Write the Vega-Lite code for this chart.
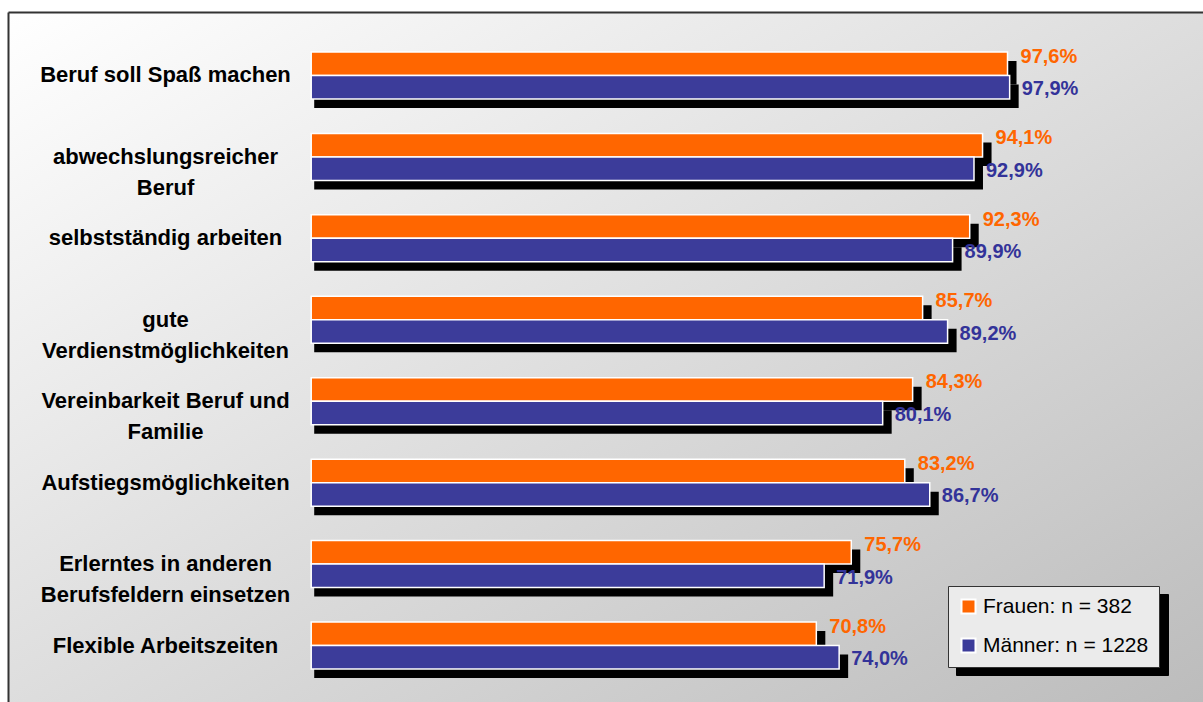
{
  "$schema": "https://vega.github.io/schema/vega-lite/v6.json",
  "width": 1195,
  "height": 690,
  "autosize": {"type": "none"},
  "padding": {"left": 8, "top": 12, "right": 0, "bottom": 0},
  "background": "#ffffff",
  "config": {
    "view": {"stroke": null},
    "locale": {"number": {"decimal": ",", "thousands": ".", "grouping": [3], "currency": ["", " €"]}}
  },
  "resolve": {"scale": {"yOffset": "independent"}},
  "datasets": {
    "shares": [
      {"item": "Beruf soll Spaß machen", "group": "Frauen: n = 382", "share": 0.976},
      {"item": "Beruf soll Spaß machen", "group": "Männer: n = 1228", "share": 0.979},
      {"item": "abwechslungsreicher|Beruf", "group": "Frauen: n = 382", "share": 0.941},
      {"item": "abwechslungsreicher|Beruf", "group": "Männer: n = 1228", "share": 0.929},
      {"item": "selbstständig arbeiten", "group": "Frauen: n = 382", "share": 0.923},
      {"item": "selbstständig arbeiten", "group": "Männer: n = 1228", "share": 0.899},
      {"item": "gute|Verdienstmöglichkeiten", "group": "Frauen: n = 382", "share": 0.857},
      {"item": "gute|Verdienstmöglichkeiten", "group": "Männer: n = 1228", "share": 0.892},
      {"item": "Vereinbarkeit Beruf und|Familie", "group": "Frauen: n = 382", "share": 0.843},
      {"item": "Vereinbarkeit Beruf und|Familie", "group": "Männer: n = 1228", "share": 0.801},
      {"item": "Aufstiegsmöglichkeiten", "group": "Frauen: n = 382", "share": 0.832},
      {"item": "Aufstiegsmöglichkeiten", "group": "Männer: n = 1228", "share": 0.867},
      {"item": "Erlerntes in anderen|Berufsfeldern einsetzen", "group": "Frauen: n = 382", "share": 0.757},
      {"item": "Erlerntes in anderen|Berufsfeldern einsetzen", "group": "Männer: n = 1228", "share": 0.719},
      {"item": "Flexible Arbeitszeiten", "group": "Frauen: n = 382", "share": 0.708},
      {"item": "Flexible Arbeitszeiten", "group": "Männer: n = 1228", "share": 0.740}
    ]
  },
  "layer": [
    {
      "data": {"values": [{}]},
      "mark": {
        "type": "rect",
        "color": {
          "gradient": "linear", "x1": 0, "y1": 0, "x2": 1, "y2": 1,
          "stops": [{"offset": 0, "color": "#ffffff"}, {"offset": 1, "color": "#bcbcbc"}]
        }
      }
    },
    {
      "data": {"name": "shares"},
      "mark": {"type": "bar", "color": "#000000", "xOffset": 9, "x2Offset": 3},
      "encoding": {
        "x": {"field": "share", "type": "quantitative"},
        "x2": {"datum": 0},
        "y": {"field": "item", "type": "nominal", "sort": null},
        "yOffset": {
          "field": "group", "type": "nominal",
          "scale": {"domain": ["Frauen: n = 382", "Männer: n = 1228"], "range": [9, 56], "paddingInner": 0, "paddingOuter": 0}
        }
      }
    },
    {
      "data": {"name": "shares"},
      "mark": {"type": "point", "opacity": 0, "filled": true, "color": "#000000"},
      "encoding": {
        "x": {"field": "share", "type": "quantitative"},
        "y": {"field": "item", "type": "nominal", "sort": null},
        "shape": {
          "field": "group", "type": "nominal",
          "scale": {"domain": ["Männer: n = 1228", "Frauen: n = 382"], "range": ["square", "square"]},
          "legend": {
            "orient": "none", "legendX": 948, "legendY": 582, "title": null, "zindex": 1,
            "symbolType": "square", "symbolSize": 196, "symbolFillColor": "#000000", "symbolStrokeColor": "#000000", "symbolStrokeWidth": 2,
            "symbolOpacity": 1, "labelFont": "Arial", "labelFontSize": 21, "labelColor": "#000000",
            "labelExpr": "''", "labelOffset": 171, "labelLimit": 300, "rowPadding": 16, "padding": 10,
            "fillColor": "#000000", "strokeColor": "#000000",
            "encode": {"symbols": {"update": {"fill": {"value": "#000000"}, "stroke": {"value": "#000000"}}}}
          }
        }
      }
    },
    {
      "data": {"name": "shares"},
      "mark": {"type": "bar", "stroke": "#ffffff", "strokeWidth": 1.5},
      "encoding": {
        "x": {
          "field": "share", "type": "quantitative",
          "scale": {"domain": [-0.425, 1.25], "nice": false},
          "axis": {
            "orient": "top", "title": null, "labels": false, "ticks": false,
            "domain": true, "domainColor": "#333333", "domainWidth": 2,
            "grid": true, "gridColor": "#333333", "gridWidth": 2, "values": [-0.425], "zindex": 1
          }
        },
        "x2": {"datum": 0},
        "y": {
          "field": "item", "type": "nominal", "sort": null,
          "scale": {"paddingInner": 0.423, "paddingOuter": 0.448, "align": 0.548},
          "axis": {
            "title": null, "orient": "left", "offset": -303, "domain": false, "ticks": false, "tickSize": 0,
            "labelPadding": 146, "labelAlign": "center", "labelBaseline": "middle",
            "labelFont": "Arial", "labelFontSize": 22, "labelFontWeight": "bold", "labelColor": "#000000",
            "labelLineHeight": 31, "labelExpr": "split(datum.value, '|')", "labelLimit": 400, "zindex": 1
          }
        },
        "yOffset": {
          "field": "group", "type": "nominal",
          "scale": {"domain": ["Frauen: n = 382", "Männer: n = 1228"], "paddingInner": 0, "paddingOuter": 0}
        },
        "color": {
          "field": "group", "type": "nominal",
          "scale": {"domain": ["Frauen: n = 382", "Männer: n = 1228"], "range": ["#ff6600", "#3c3c9a"]},
          "legend": {
            "orient": "none", "legendX": 940, "legendY": 574, "title": null, "zindex": 2,
            "symbolType": "square", "symbolSize": 196, "symbolStrokeColor": "#ffffff", "symbolStrokeWidth": 2,
            "symbolOpacity": 1, "labelFont": "Arial", "labelFontSize": 21, "labelColor": "#000000",
            "labelOffset": 4, "labelLimit": 300, "rowPadding": 16, "padding": 10,
            "fillColor": "#ebebeb", "strokeColor": "#333333",
            "encode": {"symbols": {"update": {"stroke": {"value": "#ffffff"}, "strokeWidth": {"value": 2}}}}
          }
        }
      }
    },
    {
      "data": {"name": "shares"},
      "transform": [{"filter": "datum.group === 'Frauen: n = 382'"}],
      "mark": {"type": "text", "align": "left", "baseline": "middle", "dx": 13, "dy": -7, "font": "Arial", "fontSize": 20, "fontWeight": "bold", "color": "#ff6600"},
      "encoding": {
        "x": {"field": "share", "type": "quantitative"},
        "y": {"field": "item", "type": "nominal", "sort": null},
        "yOffset": {"field": "group", "type": "nominal", "scale": {"domain": ["Frauen: n = 382", "Männer: n = 1228"], "padding": 0.5}},
        "text": {"field": "share", "type": "quantitative", "format": ".1%"}
      }
    },
    {
      "data": {"name": "shares"},
      "transform": [{"filter": "datum.group === 'Männer: n = 1228'"}],
      "mark": {"type": "text", "align": "left", "baseline": "middle", "dx": 12, "dy": 2, "font": "Arial", "fontSize": 20, "fontWeight": "bold", "color": "#333399"},
      "encoding": {
        "x": {"field": "share", "type": "quantitative"},
        "y": {"field": "item", "type": "nominal", "sort": null},
        "yOffset": {"field": "group", "type": "nominal", "scale": {"domain": ["Frauen: n = 382", "Männer: n = 1228"], "padding": 0.5}},
        "text": {"field": "share", "type": "quantitative", "format": ".1%"}
      }
    }
  ]
}
